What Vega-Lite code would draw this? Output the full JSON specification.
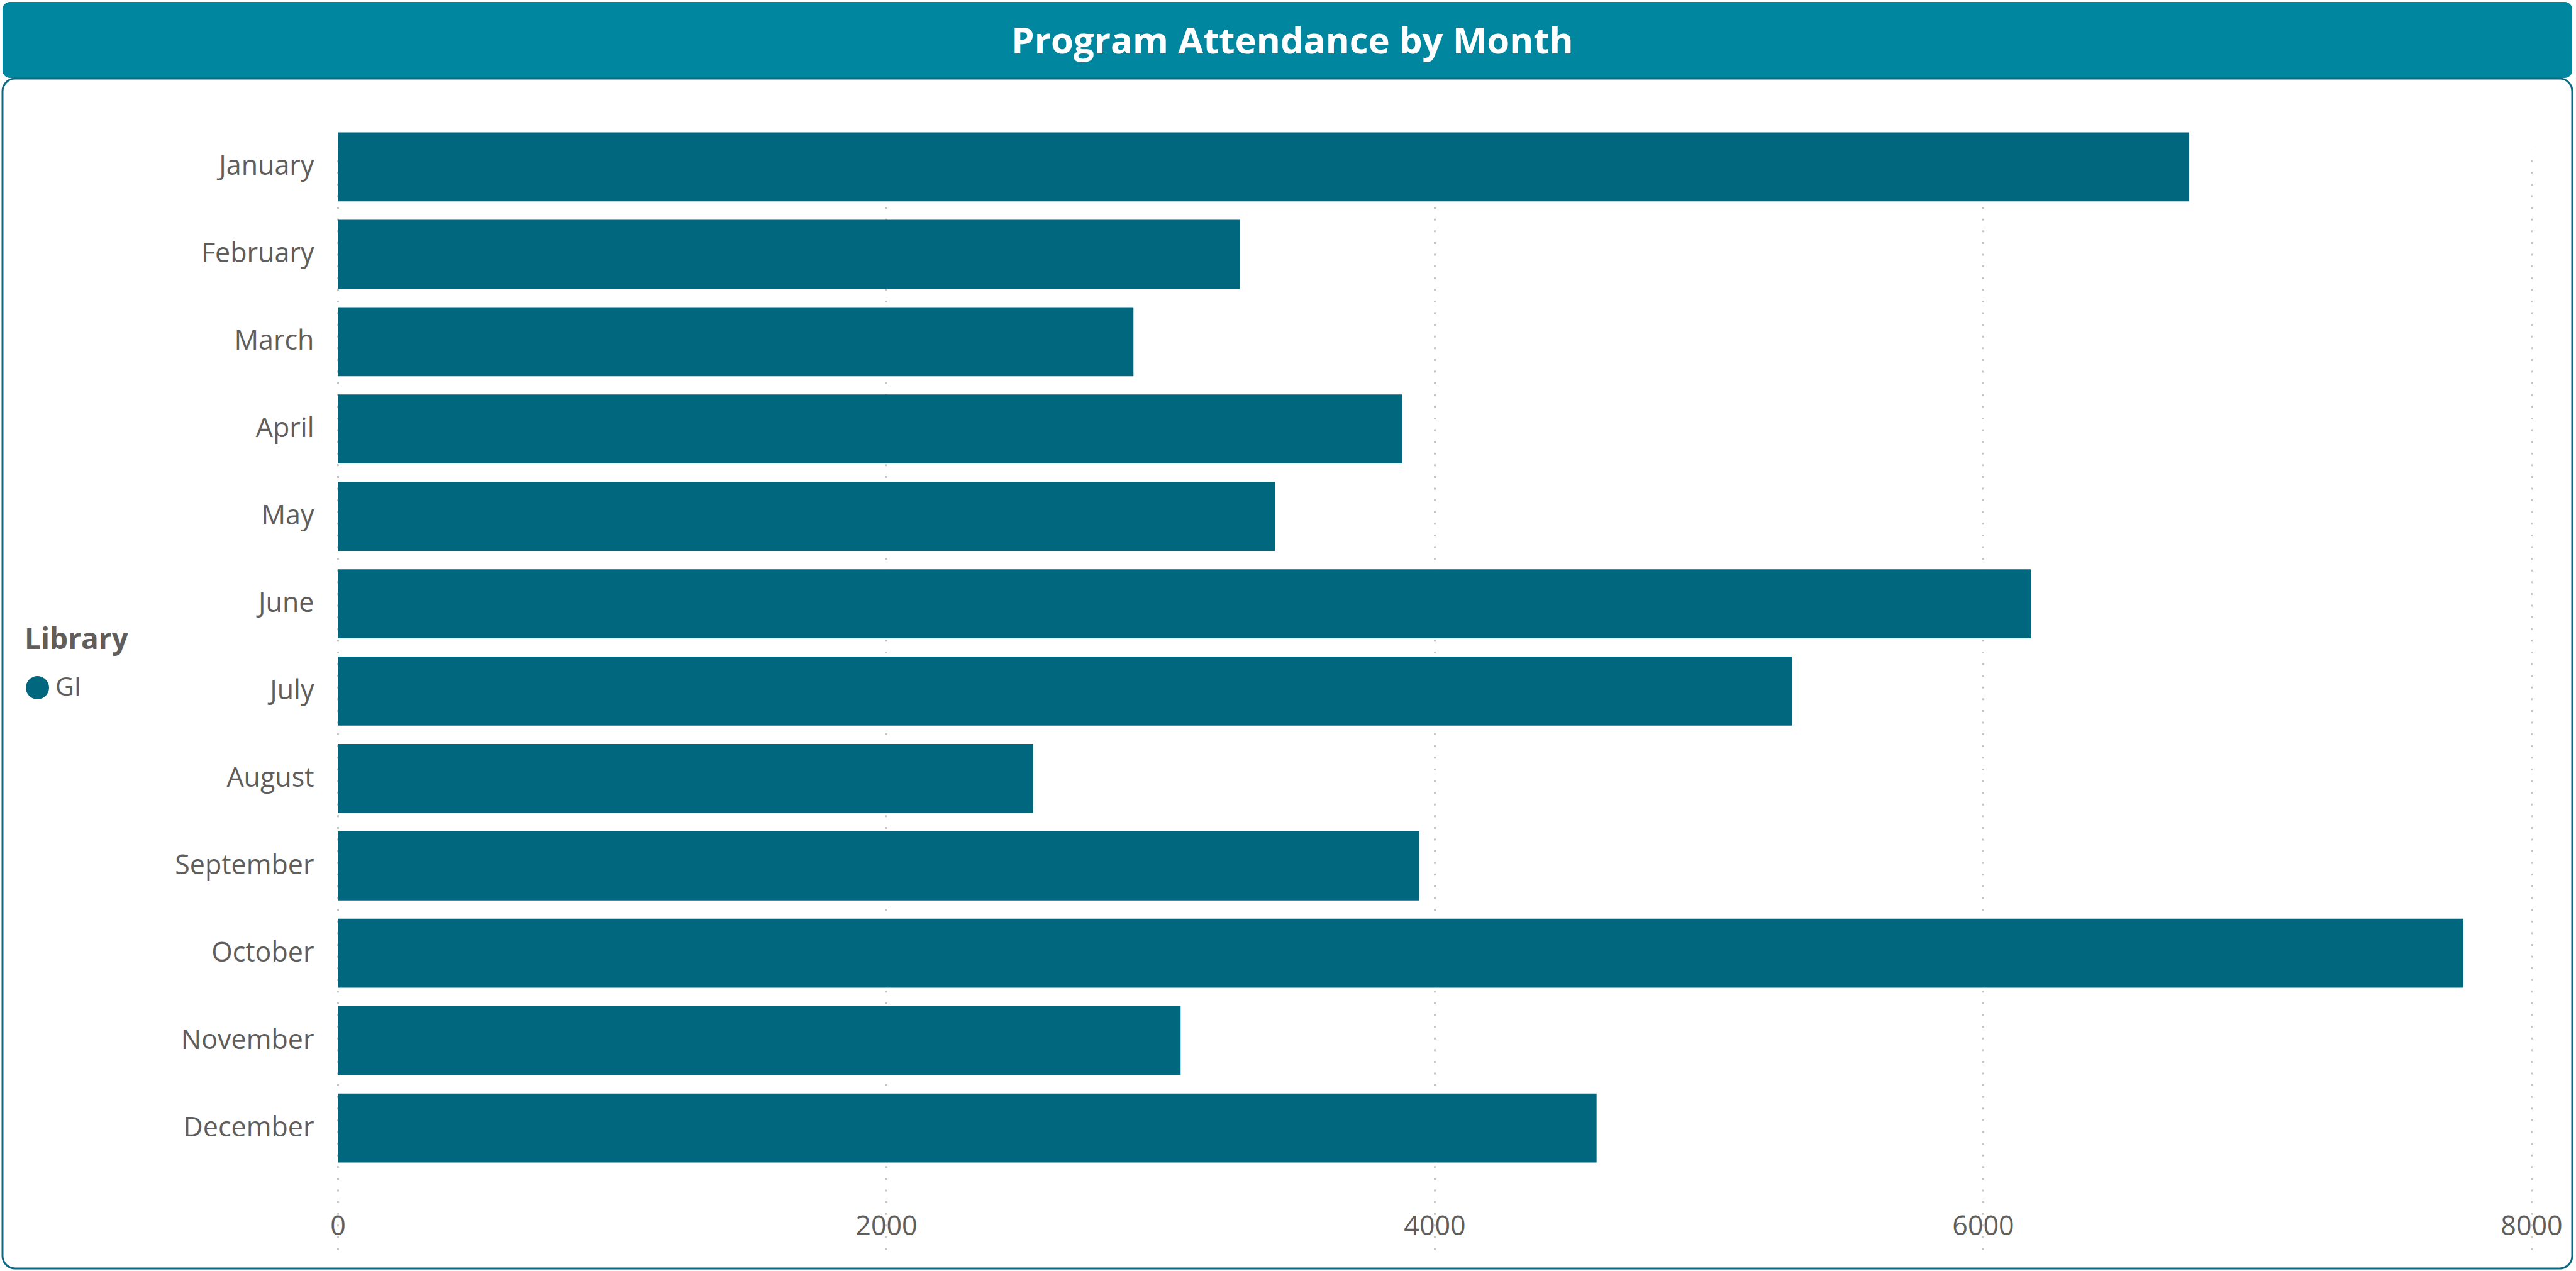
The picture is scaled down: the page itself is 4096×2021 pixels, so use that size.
{
  "$schema": "https://vega.github.io/schema/vega-lite/v6.json",
  "background": "white",
  "padding": {"left": 2, "top": 3, "right": 0, "bottom": 2},
  "spacing": -1,
  "config": {
    "font": "Open Sans",
    "view": {"stroke": null}
  },
  "vconcat": [
    {
      "width": 4086,
      "height": 121,
      "view": {"fill": "#00869F", "stroke": null, "cornerRadius": 12},
      "data": {"values": [{"title": "Program Attendance by Month"}]},
      "mark": {"type": "text", "color": "white", "font": "Open Sans", "fontWeight": "bold", "fontSize": 58, "align": "center", "baseline": "middle", "dy": 4, "dx": 8},
      "encoding": {"text": {"field": "title", "type": "nominal"}}
    },
    {
      "width": 4086,
      "height": 1892,
      "view": {"stroke": "#0B6983", "strokeWidth": 3, "cornerRadius": 20, "fill": null},
      "data": {"values": [
        {"Month": "January", "Attendance": 6752, "Library": "GI"},
        {"Month": "February", "Attendance": 3289, "Library": "GI"},
        {"Month": "March", "Attendance": 2902, "Library": "GI"},
        {"Month": "April", "Attendance": 3882, "Library": "GI"},
        {"Month": "May", "Attendance": 3418, "Library": "GI"},
        {"Month": "June", "Attendance": 6175, "Library": "GI"},
        {"Month": "July", "Attendance": 5303, "Library": "GI"},
        {"Month": "August", "Attendance": 2536, "Library": "GI"},
        {"Month": "September", "Attendance": 3944, "Library": "GI"},
        {"Month": "October", "Attendance": 7752, "Library": "GI"},
        {"Month": "November", "Attendance": 3074, "Library": "GI"},
        {"Month": "December", "Attendance": 4591, "Library": "GI"}
      ]},
      "mark": {"type": "bar"},
      "encoding": {
        "y": {
          "field": "Month", "type": "nominal", "sort": null,
          "scale": {"paddingInner": 0.21, "paddingOuter": 0.4, "range": [30, 1779]},
          "axis": {"title": null, "domain": false, "ticks": false, "offset": -533, "labelFontSize": 43, "labelColor": "#605E5C", "labelPadding": 38, "labelFont": "Open Sans", "labelLimit": 500}
        },
        "x": {
          "field": "Attendance", "type": "quantitative",
          "scale": {"domain": [0, 8000], "nice": false, "range": [533, 4021]},
          "axis": {"title": null, "domain": false, "ticks": false, "values": [0, 2000, 4000, 6000, 8000], "format": "d", "labelFontSize": 43, "labelColor": "#605E5C", "labelPadding": -88, "labelFlush": false, "labelFont": "Open Sans", "grid": true, "gridColor": "#C8C6C4", "gridWidth": 3, "gridDash": [3, 15.6]}
        },
        "color": {
          "field": "Library", "type": "nominal",
          "scale": {"range": ["#00677F"]},
          "legend": {"orient": "none", "legendX": 35, "legendY": 993, "padding": 0, "title": "Library", "titleFontSize": 46, "titleFontWeight": "bold", "titleColor": "#605E5C", "titleFont": "Open Sans", "titlePadding": 31, "labelFontSize": 41, "labelColor": "#605E5C", "labelFont": "Open Sans", "labelOffset": 8, "symbolType": "circle", "symbolSize": 1369, "symbolOpacity": 1, "symbolStrokeWidth": 0}
        }
      }
    }
  ]
}
